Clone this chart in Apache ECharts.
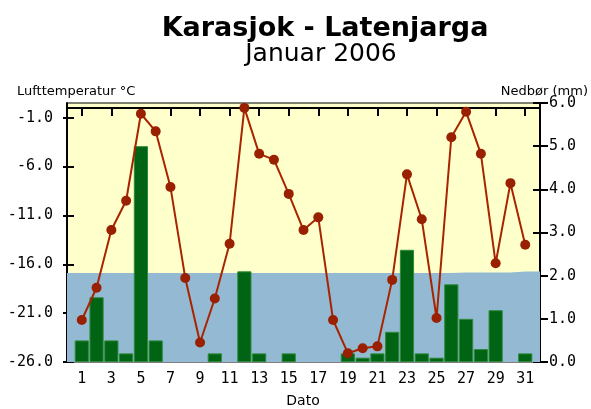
<!DOCTYPE html>
<html>
<head>
<meta charset="utf-8">
<script src="https://cdn.jsdelivr.net/npm/echarts@6/dist/echarts.min.js"></script>
<style>
  html, body { margin: 0; padding: 0; background: #fff; }
  #chart { width: 591px; height: 409px; }
</style>
</head>
<body>
<div id="chart"></div>
<script>
// dager i januar
const days = [1, 2, 3, 4, 5, 6, 7, 8, 9, 10, 11, 12, 13, 14, 15, 16, 17, 18, 19, 20, 21, 22, 23, 24, 25, 26, 27, 28, 29, 30, 31]
// lufttemperatur (°C)
const temperature = [-21.7, -18.4, -12.5, -9.5, -0.6, -2.4, -8.1, -17.4, -24.0, -19.5, -13.9, 0.0, -4.7, -5.3, -8.8, -12.5,
  -11.2, -21.7, -25.1, -24.6, -24.4, -17.6, -6.8, -11.4, -21.5, -3.0, -0.4, -4.7, -15.9, -7.7, -14.0]
// nedbør (mm)
const precipitation = [0.5, 1.5, 0.5, 0.2, 5.0, 0.5, 0, 0, 0, 0.2, 0, 2.1, 0.2, 0, 0.2, 0,
  0, 0, 0.2, 0.1, 0.2, 0.7, 2.6, 0.2, 0.1, 1.8, 1.0, 0.3, 1.2, 0, 0.2]
// normaltemperatur (blå flate), fra venstre til høyre kant
const normalTemp = [-16.9, -16.9, -16.9, -16.9, -16.9, -16.9, -16.9, -16.9, -16.9, -16.9, -16.9, -16.9, -16.9, -16.9, -16.9, -16.9,
  -16.9, -16.9, -16.9, -16.9, -16.9, -16.9, -16.9, -16.9, -16.9, -16.9, -16.85, -16.85, -16.85, -16.85, -16.75, -16.75, -16.75]
// aksemerker
const tempTicks = [-26, -21, -16, -11, -6, -1]
const precipTicks = [0, 1, 2, 3, 4, 5, 6]

// kategoriaksen går fra 0 til 32 slik at dag 1..31 ligger innenfor
const axisData = [''].concat(days.map(String)).concat([''])
const pad = arr => [null].concat(arr).concat([null])
const oddDay = (idx) => idx >= 1 && idx <= 31 && idx % 2 === 1

const monoFont = { fontFamily: 'DejaVu Sans Mono', fontSize: 15, color: '#000' }

let chart = echarts.init(document.getElementById('chart'))
let option = {
  animation: false,
  graphic: [
    { type: 'text', x: 325, y: 29, style: { text: 'Karasjok - Latenjarga', font: 'bold 27px "DejaVu Sans"', fill: '#000', align: 'center', verticalAlign: 'middle' } },
    { type: 'text', x: 321, y: 54, style: { text: 'Januar 2006', font: '25px "DejaVu Sans"', fill: '#000', align: 'center', verticalAlign: 'middle' } },
    { type: 'text', x: 17, y: 92, style: { text: 'Lufttemperatur °C', font: '13px "DejaVu Sans"', fill: '#000', align: 'left', verticalAlign: 'middle' } },
    { type: 'text', x: 588, y: 92, style: { text: 'Nedbør (mm)', font: '13px "DejaVu Sans"', fill: '#000', align: 'right', verticalAlign: 'middle' } },
    { type: 'text', x: 303, y: 401, style: { text: 'Dato', font: '14px "DejaVu Sans"', fill: '#000', align: 'center', verticalAlign: 'middle' } }
  ],
  grid: {
    left: 67, right: 51, top: 103, bottom: 47,
    show: true, backgroundColor: '#ffffcc', borderColor: '#000', borderWidth: 1
  },
  xAxis: [
    {
      type: 'category', data: axisData, boundaryGap: false, position: 'bottom',
      axisLine: { lineStyle: { color: '#000', width: 2 } },
      axisTick: { interval: oddDay, length: 8, lineStyle: { color: '#000', width: 2 } },
      axisLabel: Object.assign({ interval: oddDay, margin: 10 }, monoFont),
      splitLine: { show: false }
    },
    {
      type: 'category', data: axisData, boundaryGap: false, position: 'bottom',
      axisLine: { show: false },
      axisTick: { interval: oddDay, inside: true, length: 7, lineStyle: { color: '#000', width: 2 } },
      axisLabel: { show: false },
      splitLine: { show: false }
    }
  ],
  yAxis: [
    {
      type: 'value', min: -26, max: 0.5, position: 'left',
      axisLine: { show: true, lineStyle: { color: '#000', width: 2 } },
      axisTick: { show: true, customValues: tempTicks, length: 4, lineStyle: { color: '#000', width: 2 } },
      axisLabel: Object.assign({ customValues: tempTicks, margin: 14, formatter: v => v.toFixed(1) }, monoFont),
      splitLine: { show: false }
    },
    {
      type: 'value', min: 0, max: 6, position: 'right',
      axisLine: { show: true, lineStyle: { color: '#000', width: 2 } },
      axisTick: { show: true, customValues: precipTicks, length: 8, lineStyle: { color: '#000', width: 2 } },
      axisLabel: Object.assign({ customValues: precipTicks, margin: 9, formatter: v => v.toFixed(1) }, monoFont),
      splitLine: { show: false }
    },
    {
      type: 'value', min: -26, max: 0.5, position: 'left',
      axisLine: { show: false },
      axisTick: { show: true, inside: true, customValues: tempTicks, length: 7, lineStyle: { color: '#000', width: 2 } },
      axisLabel: { show: false },
      splitLine: { show: false }
    },
    {
      type: 'value', min: 0, max: 6, position: 'right',
      axisLine: { show: false },
      axisTick: { show: true, inside: true, customValues: precipTicks, length: 7, lineStyle: { color: '#000', width: 2 } },
      axisLabel: { show: false },
      splitLine: { show: false }
    }
  ],
  series: [
    {
      name: 'Normal',
      type: 'line',
      xAxisIndex: 0,
      yAxisIndex: 0,
      data: normalTemp,
      step: 'end',
      symbol: 'none',
      silent: true,
      lineStyle: { width: 0 },
      areaStyle: { color: '#93b9d3', opacity: 1, origin: 'start' },
      z: 1
    },
    {
      name: 'Nedbør',
      type: 'bar',
      xAxisIndex: 0,
      yAxisIndex: 1,
      // dager uten nedbør tegnes ikke
      data: pad(precipitation.map(v => (v === 0 ? '-' : v))),
      barCategoryGap: '4%',
      itemStyle: { color: '#006414', borderColor: '#2e8a3a', borderWidth: 1 },
      z: 2
    },
    {
      name: 'Lufttemperatur',
      type: 'line',
      xAxisIndex: 0,
      yAxisIndex: 0,
      data: pad(temperature),
      symbol: 'circle',
      symbolSize: 10,
      showAllSymbol: true,
      lineStyle: { color: '#a82400', width: 2 },
      itemStyle: { color: '#992000' },
      z: 3
    }
  ]
}
chart.setOption(option)
</script>
</body>
</html>
